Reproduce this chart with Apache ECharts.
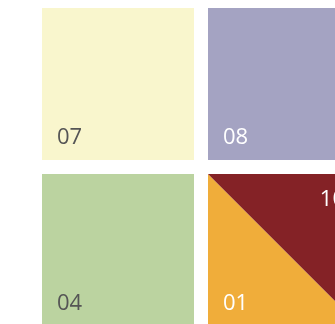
<!DOCTYPE html>
<html>
<head>
<meta charset="utf-8">
<script src="https://cdn.jsdelivr.net/npm/echarts@6/dist/echarts.min.js"></script>
<style>
  html, body { margin: 0; padding: 0; background: #fff; }
  #main { width: 335px; height: 324px; }
</style>
</head>
<body>
<div id="main"></div>
<script>
// tiles: column, row, main label, second label (diagonal split)
var tileCol = [0, 1, 0, 1];
var tileRow = [0, 0, 1, 1];
var tileLabel = ['07', '08', '04', '01'];
var splitLabel = ['', '', '', '10'];

var colors = {
  '07': '#f9f6cd',
  '08': '#a4a3c2',
  '04': '#bbd3a0',
  '01': '#f0ad3a',
  '10': '#842226'
};
var darkText = { '07': true, '04': true };

var data = [];
for (var i = 0; i < tileLabel.length; i++) {
  data.push([tileCol[i], tileRow[i], tileLabel[i], splitLabel[i]]);
}

var chart = echarts.init(document.getElementById('main'));

function renderTile(params, api) {
  var x = api.value(0), y = api.value(1);
  var lab = tileLabel[params.dataIndex];
  var lab2 = splitLabel[params.dataIndex];
  var p0 = api.coord([x, y]);
  var p1 = api.coord([x + 1, y + 1]);
  var gap = 7;
  var x0 = p0[0] + gap, y0 = p0[1] + gap;
  var x1 = p1[0] - gap, y1 = p1[1] - gap;
  var children = [];
  if (lab2) {
    children.push({
      type: 'polygon',
      shape: { points: [[x0, y0], [x0, y1], [x1, y1]] },
      style: { fill: colors[lab] }
    });
    children.push({
      type: 'polygon',
      shape: { points: [[x0, y0], [x1, y0], [x1, y1]] },
      style: { fill: colors[lab2] }
    });
    children.push({
      type: 'text',
      style: {
        text: lab2, x: x1 - 15, y: y0 + 26,
        align: 'right', verticalAlign: 'middle',
        fill: darkText[lab2] ? '#555' : '#fff',
        font: '22px "Open Sans"'
      }
    });
  } else {
    children.push({
      type: 'rect',
      shape: { x: x0, y: y0, width: x1 - x0, height: y1 - y0 },
      style: { fill: colors[lab] }
    });
  }
  children.push({
    type: 'text',
    style: {
      text: lab, x: x0 + 15, y: y1 - 22,
      align: 'left', verticalAlign: 'middle',
      fill: darkText[lab] ? '#555' : '#fff',
      font: '22px "Open Sans"'
    }
  });
  return { type: 'group', children: children };
}

var options = {
  animation: false,
  grid: { left: 35, top: 1, width: 332, height: 332, outerBoundsMode: 'none' },
  xAxis: { type: 'value', min: 0, max: 2, show: false },
  yAxis: { type: 'value', min: 0, max: 2, inverse: true, show: false },
  series: [{
    type: 'custom',
    renderItem: renderTile,
    encode: { x: 0, y: 1 },
    data: data
  }]
};
chart.setOption(options);
</script>
</body>
</html>
